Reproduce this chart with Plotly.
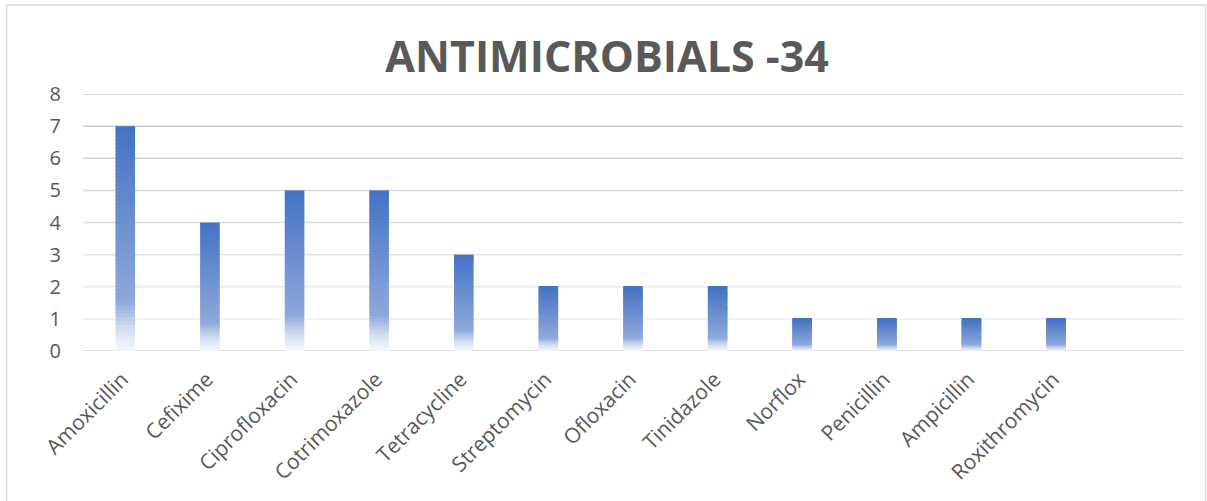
import plotly.graph_objects as go

categories = ["Amoxicillin", "Cefixime", "Ciprofloxacin", "Cotrimoxazole", "Tetracycline",
              "Streptomycin", "Ofloxacin", "Tinidazole", "Norflox", "Penicillin",
              "Ampicillin", "Roxithromycin"]
values = [7, 4, 5, 5, 3, 2, 2, 2, 1, 1, 1, 1]
y_ticks = [0, 1, 2, 3, 4, 5, 6, 7, 8]
title_text = "ANTIMICROBIALS -34"

# gradient stops: (fraction of bar height from bottom, rgb)
stops = [(0.0, (246, 248, 252)), (0.1, (212, 222, 241)), (0.22, (142, 168, 219)), (1.0, (68, 114, 196))]


def grad_color(f):
    for (f0, c0), (f1, c1) in zip(stops[:-1], stops[1:]):
        if f <= f1:
            t = (f - f0) / (f1 - f0) if f1 > f0 else 0
            c = [round(a + (b - a) * t) for a, b in zip(c0, c1)]
            return "rgb(%d,%d,%d)" % tuple(c)
    return "rgb(%d,%d,%d)" % stops[-1][1]


N = 60
fig = go.Figure()
for k in range(N):
    lo = k / N
    hi = min((k + 1.6) / N, 1.0)
    fig.add_trace(go.Bar(
        x=categories,
        base=[v * lo for v in values],
        y=[v * (hi - lo) for v in values],
        width=0.23,
        marker=dict(color=grad_color((k + 0.5) / N), line=dict(width=0)),
        showlegend=False,
        hoverinfo="skip",
    ))

shapes = []
for t in y_ticks:
    if t == 0:
        col = "#D4D4D4"
    else:
        g = round(238 - (238 - 198) * (t - 1) / 7)
        col = "rgb(%d,%d,%d)" % (g, g, g)
    shapes.append(dict(type="line", xref="paper", yref="y", x0=0, x1=1, y0=t, y1=t,
                       line=dict(color=col, width=1.5), layer="below"))
# outer chart frame
shapes.append(dict(type="rect", xref="paper", yref="paper",
                   x0=-0.0695, x1=1.0205, y0=-0.59, y1=1.3463,
                   line=dict(color="#D9D9D9", width=1.5), layer="below"))

fig.update_layout(
    width=1207, height=501,
    margin=dict(l=83, r=24, t=94, b=150),
    paper_bgcolor="white", plot_bgcolor="white",
    barmode="overlay",
    font=dict(family="Open Sans", color="#595959", size=20),
    title=dict(text="<b>" + title_text + "</b>", x=0.503, xanchor="center",
               y=0.886, yanchor="middle", yref="container",
               font=dict(family="Open Sans", size=43, color="#595959")),
    shapes=shapes,
    xaxis=dict(type="category", range=[-0.5, 12.5], showgrid=False, zeroline=False,
               showline=False, tickangle=-45, ticks="", ticklabelstandoff=11,
               ticklabelshift=-3,
               tickfont=dict(size=21, color="#595959")),
    yaxis=dict(range=[0, 8], tickvals=y_ticks, showgrid=False, zeroline=False,
               showline=False, ticks="", ticklabelstandoff=21,
               tickfont=dict(size=20, color="#595959")),
)

fig.write_html("out.html", config={"displayModeBar": False},
               post_script="document.body.style.margin='0';")
